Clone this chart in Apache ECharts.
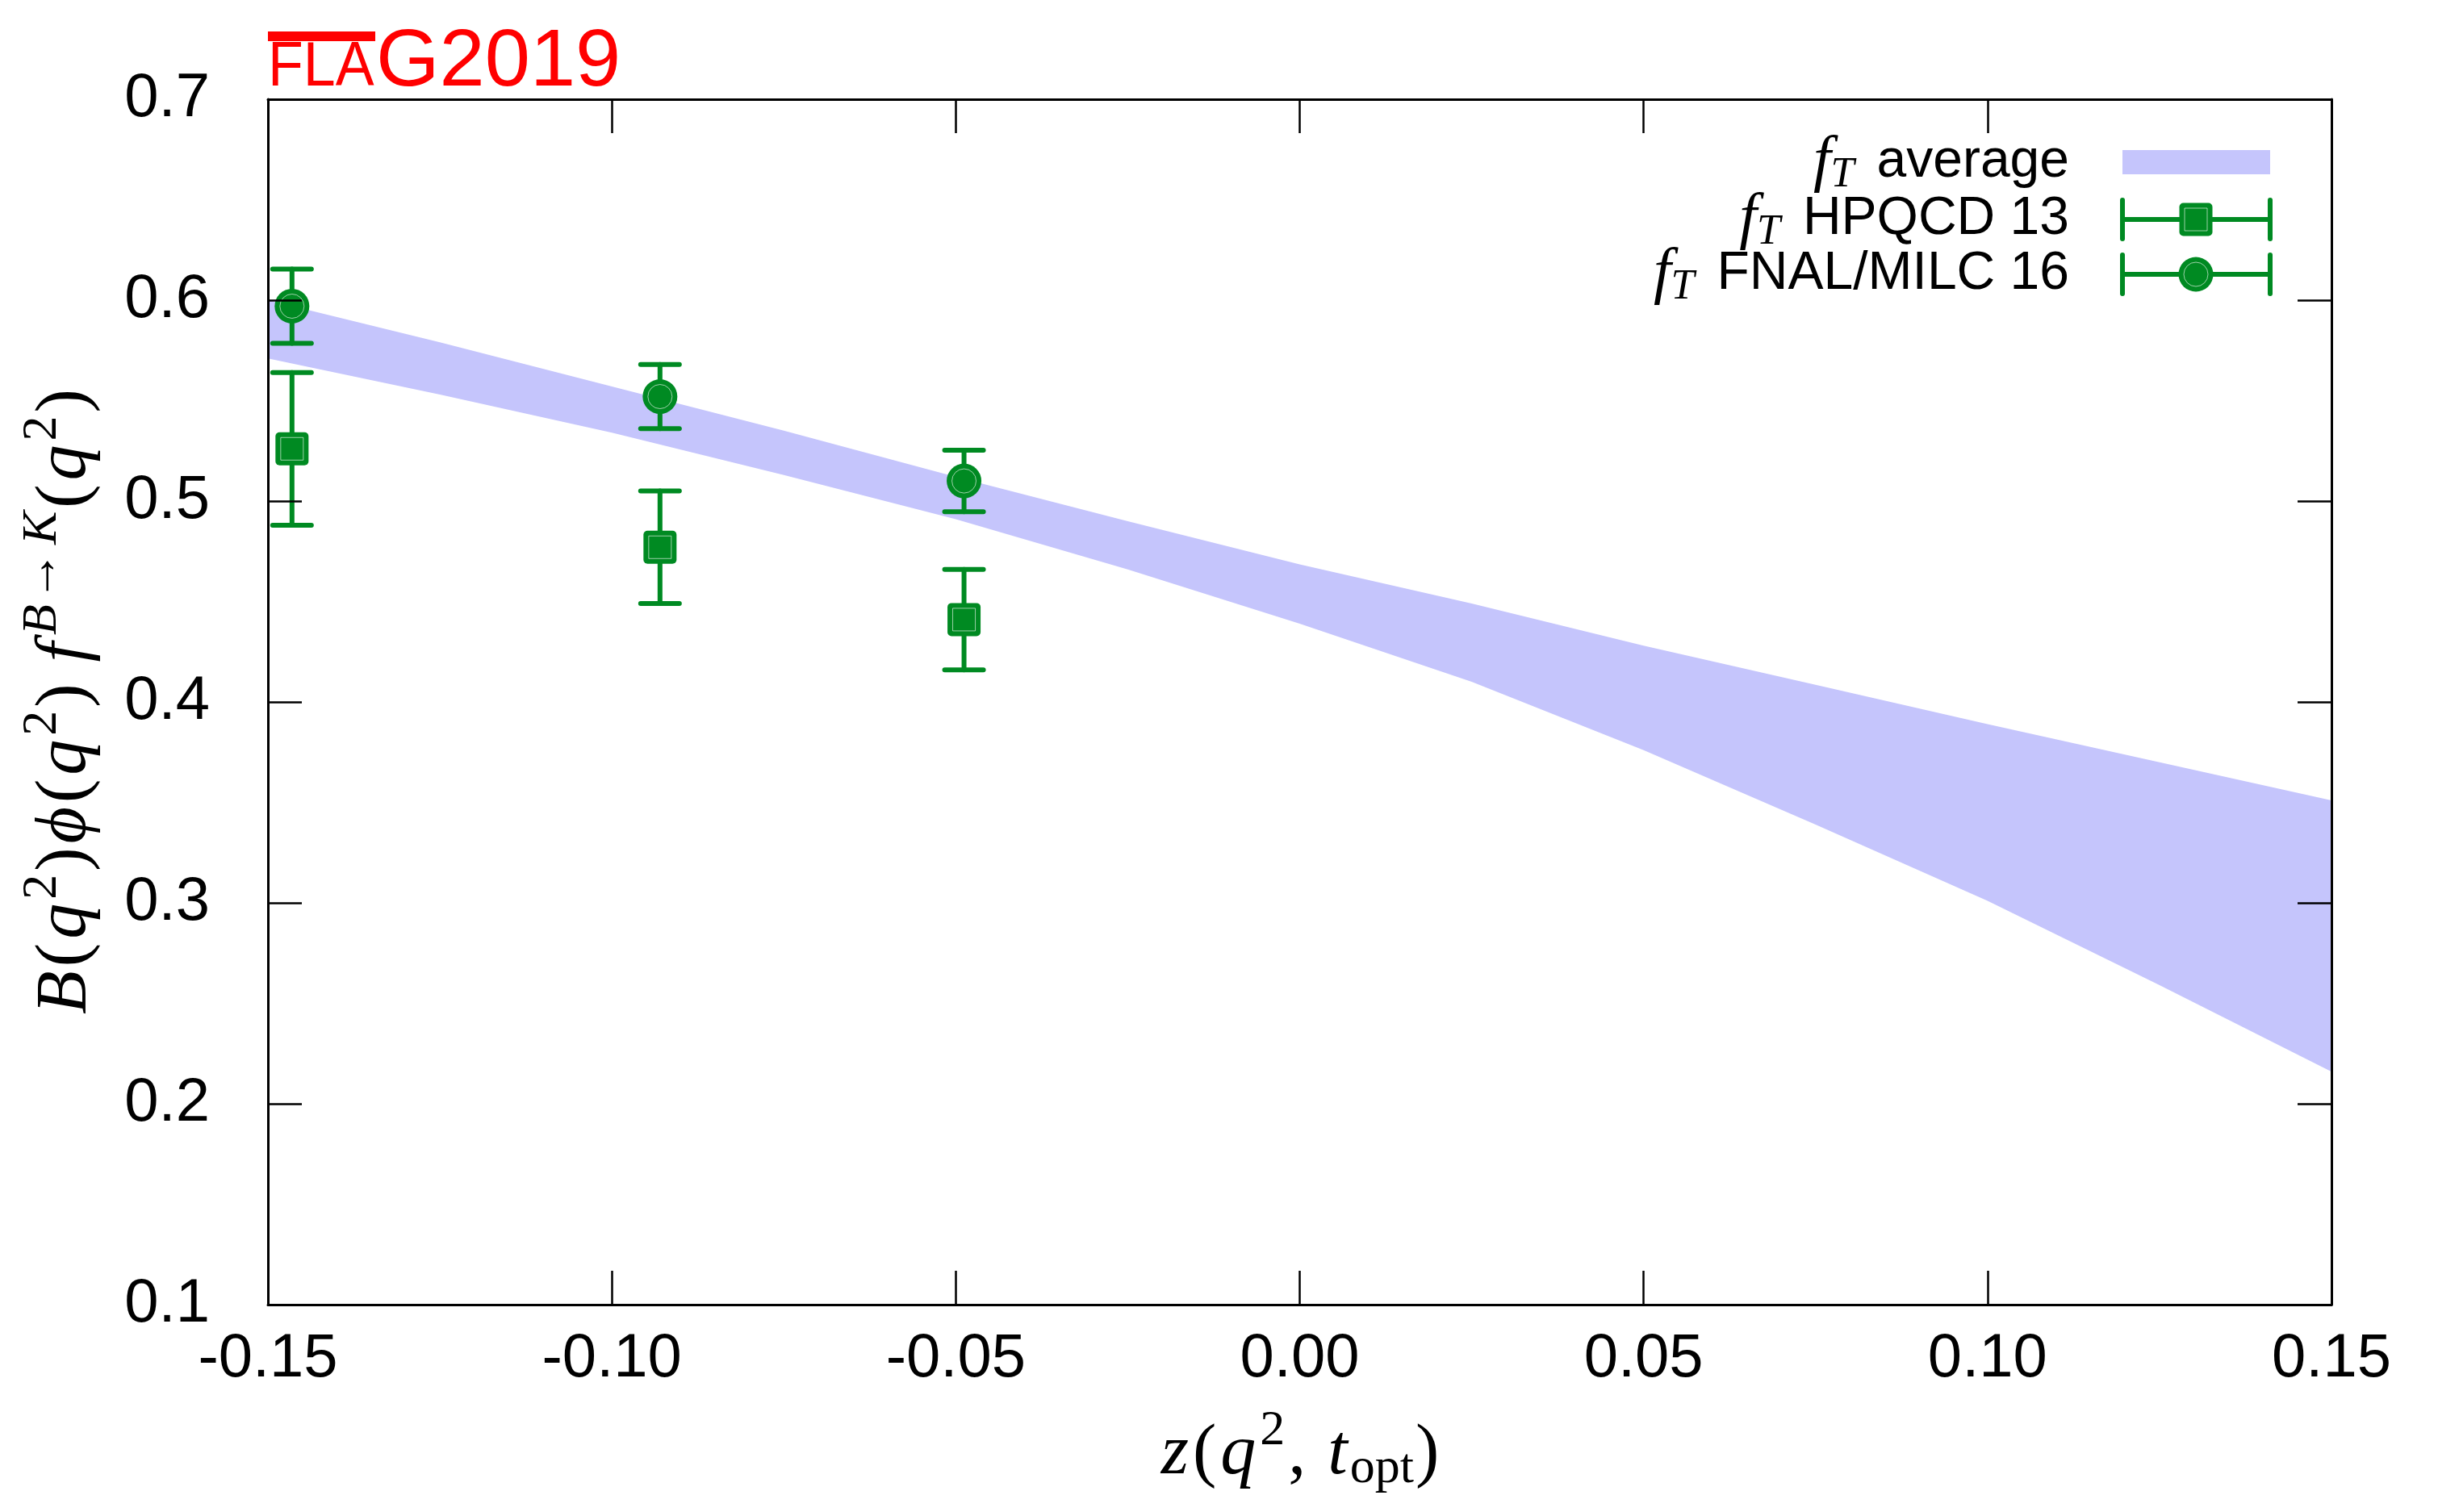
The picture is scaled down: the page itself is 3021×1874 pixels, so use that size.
<!DOCTYPE html>
<html><head><meta charset="utf-8">
<script src="https://cdn.jsdelivr.net/npm/echarts@6/dist/echarts.min.js"></script>
<style>html,body{margin:0;padding:0;background:#fff}#c{width:3021px;height:1874px}</style>
</head><body><div id="c"></div>
<script>
// ---- data ----
const xTickLabels = ['-0.15','-0.10','-0.05','0.00','0.05','0.10','0.15'];
const yTickLabels = ['0.1','0.2','0.3','0.4','0.5','0.6','0.7'];
const bandZ     = [-0.15, -0.125, -0.10, -0.075, -0.05, -0.025, 0.0, 0.025, 0.05, 0.075, 0.10, 0.125, 0.15];
const bandUpper = [0.600, 0.579, 0.557, 0.535, 0.512, 0.490, 0.4685, 0.449, 0.428, 0.4085, 0.389, 0.370, 0.351];
const bandLower = [0.571, 0.553, 0.534, 0.513, 0.491, 0.466, 0.439, 0.410, 0.376, 0.339, 0.301, 0.259, 0.216];
const pointZ    = [-0.1465, -0.0930, -0.0488];
const hpqcdVal  = [0.526, 0.477, 0.441];
const hpqcdErr  = [0.038, 0.028, 0.025];
const fnalVal   = [0.597, 0.552, 0.510];
const fnalErr   = [0.0185, 0.016, 0.0153];
const seriesNames = ['f_T average', 'f_T HPQCD 13', 'f_T FNAL/MILC 16'];
const legendLabels = ['average', 'HPQCD 13', 'FNAL/MILC 16'];

// ---- styles ----
const GREEN = '#008a22';
const BAND = '#c5c5fc';
const SANS = 'Liberation Sans';
const SERIF = 'Liberation Serif';

function markerEls(shape, cx, cy) {
  if (shape === 'square') {
    return [
      {type:'rect', shape:{x:cx-20.5, y:cy-20.5, width:41, height:41, r:5}, style:{fill:GREEN}},
      {type:'rect', shape:{x:cx-14, y:cy-14, width:28, height:28}, style:{fill:null, stroke:'rgba(255,255,255,0.6)', lineWidth:1}}
    ];
  }
  return [
    {type:'circle', shape:{cx:cx, cy:cy, r:21.5}, style:{fill:GREEN}},
    {type:'circle', shape:{cx:cx, cy:cy, r:15}, style:{fill:null, stroke:'rgba(255,255,255,0.6)', lineWidth:1}}
  ];
}
function errEls(p, top, bot) {
  const ls = {stroke:GREEN, lineWidth:6, lineCap:'round'};
  return [
    {type:'line', shape:{x1:p[0], y1:top[1], x2:p[0], y2:bot[1]}, style:ls},
    {type:'line', shape:{x1:p[0]-24, y1:top[1], x2:p[0]+24, y2:top[1]}, style:ls},
    {type:'line', shape:{x1:p[0]-24, y1:bot[1], x2:p[0]+24, y2:bot[1]}, style:ls}
  ];
}
function errSeries(name, vals, errs, shape) {
  return {
    type:'custom', name:name, z:5,
    data: pointZ.map((z,i)=>[z, vals[i], errs[i]]),
    renderItem: function(params, api) {
      const x = api.value(0), y = api.value(1), e = api.value(2);
      const p = api.coord([x,y]);
      const top = api.coord([x,y+e]);
      const bot = api.coord([x,y-e]);
      return {type:'group', children: errEls(p, top, bot).concat(markerEls(shape, p[0], p[1]))};
    }
  };
}

const chart = echarts.init(document.getElementById('c'), null, {renderer:'canvas'});

const FS = 88, FSS = 62;
const mainRich = {
  i:{fontFamily:SERIF, fontStyle:'italic', fontSize:FS, color:'#000', padding:[0,3,0,3]},
  r:{fontFamily:SERIF, fontSize:FS, color:'#000', padding:[0,2,0,2]},
  sp:{fontFamily:SERIF, fontSize:FS, color:'#000'},
  sup:{fontFamily:SERIF, fontSize:FSS, color:'#000', padding:[0,2,58,2]},
  supi:{fontFamily:SERIF, fontStyle:'italic', fontSize:FSS, color:'#000', padding:[0,2,58,6]},
  sub:{fontFamily:SERIF, fontSize:FSS, color:'#000', padding:[36,0,0,0]}
};

const xAxisBase = {
  type:'value', min:-0.15, max:0.15, interval:0.05,
  axisLine:{show:true, onZero:false, lineStyle:{color:'#000', width:3}},
  axisTick:{show:true, inside:true, length:42, lineStyle:{color:'#000', width:2.5}},
  splitLine:{show:false}, z:10
};
const yAxisBase = {
  type:'value', min:0.1, max:0.7, interval:0.1,
  axisLine:{show:true, onZero:false, lineStyle:{color:'#000', width:3}},
  axisTick:{show:true, inside:true, length:42, lineStyle:{color:'#000', width:2.5}},
  splitLine:{show:false}, z:10
};

function idx(v, min, step) { return Math.round((v - min) / step); }

const option = {
  backgroundColor:'#fff',
  animation:false,
  grid:{left:332, right:132, top:123, bottom:257, containLabel:false},
  xAxis:[
    Object.assign({}, xAxisBase, {
      position:'bottom',
      axisLabel:{show:true, fontFamily:SANS, fontSize:76, color:'#000', margin:30,
        formatter: v => xTickLabels[idx(v, -0.15, 0.05)]},
      name:'{i|z}{r|(}{i|q}{sup|2}{r|, }{i|t}{sub|opt}{r|)}',
      nameLocation:'middle', nameGap:126,
      nameTextStyle:{rich:mainRich}
    }),
    Object.assign({}, xAxisBase, {position:'top', axisLabel:{show:false}})
  ],
  yAxis:[
    Object.assign({}, yAxisBase, {
      position:'left',
      axisLabel:{show:true, fontFamily:SANS, fontSize:76, color:'#000', margin:72,
        formatter: v => yTickLabels[idx(v, 0.1, 0.1)]},
      name:'{i|B}{r|(}{i|q}{sup|2}{r|)}{i|ϕ}{r|(}{i|q}{sup|2}{r|)}{sp| }{i|f}{supi|B}{sup|→}{supi|K}{r|(}{i|q}{sup|2}{r|)}',
      nameLocation:'middle', nameRotate:90, nameGap:190,
      nameTextStyle:{rich:mainRich}
    }),
    Object.assign({}, yAxisBase, {position:'right', axisLabel:{show:false}})
  ],
  series:[
    {
      type:'custom', name:seriesNames[0], z:1,
      data:[[bandZ[0], bandLower[0]]],
      renderItem: function(params, api) {
        const pts = [];
        for (let i=0;i<bandZ.length;i++) pts.push(api.coord([bandZ[i], bandUpper[i]]));
        for (let i=bandZ.length-1;i>=0;i--) pts.push(api.coord([bandZ[i], bandLower[i]]));
        return {type:'polygon', shape:{points:pts}, style:{fill:BAND}};
      }
    },
    errSeries(seriesNames[1], hpqcdVal, hpqcdErr, 'square'),
    errSeries(seriesNames[2], fnalVal, fnalErr, 'circle')
  ],
  graphic:[]
};

// legend (gnuplot style: right-aligned text, sample to the right)
const legRich = {
  i:{fontFamily:SERIF, fontStyle:'italic', fontSize:78, color:'#000'},
  sub:{fontFamily:SERIF, fontStyle:'italic', fontSize:52, color:'#000', padding:[32,0,0,0]},
  n:{fontFamily:SANS, fontSize:66, color:'#000', padding:[0,0,0,28]}
};
const legRows = [
  {y:201, label:legendLabels[0]},
  {y:272, label:legendLabels[1], shape:'square'},
  {y:340, label:legendLabels[2], shape:'circle'}
];
legRows.forEach(row => {
  option.graphic.push({type:'text', x:2564, y:row.y, z:20,
    style:{text:'{i|f}{sub|T}{n|' + row.label + '}', rich:legRich, align:'right', verticalAlign:'middle'}});
  if (!row.shape) {
    option.graphic.push({type:'rect', z:20, shape:{x:2630, y:row.y-15, width:183, height:30}, style:{fill:BAND}});
  } else {
    const ls = {stroke:GREEN, lineWidth:6, lineCap:'round'};
    const els = [
      {type:'line', shape:{x1:2630, y1:row.y, x2:2813, y2:row.y}, style:ls},
      {type:'line', shape:{x1:2630, y1:row.y-24, x2:2630, y2:row.y+24}, style:ls},
      {type:'line', shape:{x1:2813, y1:row.y-24, x2:2813, y2:row.y+24}, style:ls}
    ].concat(markerEls(row.shape, 2721, row.y));
    option.graphic.push({type:'group', z:20, children:els});
  }
});

// FLAG 2019 logo
option.graphic.push(
  {type:'rect', z:20, shape:{x:332, y:39, width:133, height:12}, style:{fill:'#ff0000'}},
  {type:'text', z:20, x:332, y:84, scaleX:0.92, style:{text:'FLA', fontFamily:SANS, fontSize:78, fill:'#ff0000', verticalAlign:'middle', align:'left'}},
  {type:'text', z:20, x:466, y:78, style:{text:'G2019', fontFamily:SANS, fontSize:101, fill:'#ff0000', verticalAlign:'middle', align:'left'}}
);

chart.setOption(option);
</script>
</body></html>
